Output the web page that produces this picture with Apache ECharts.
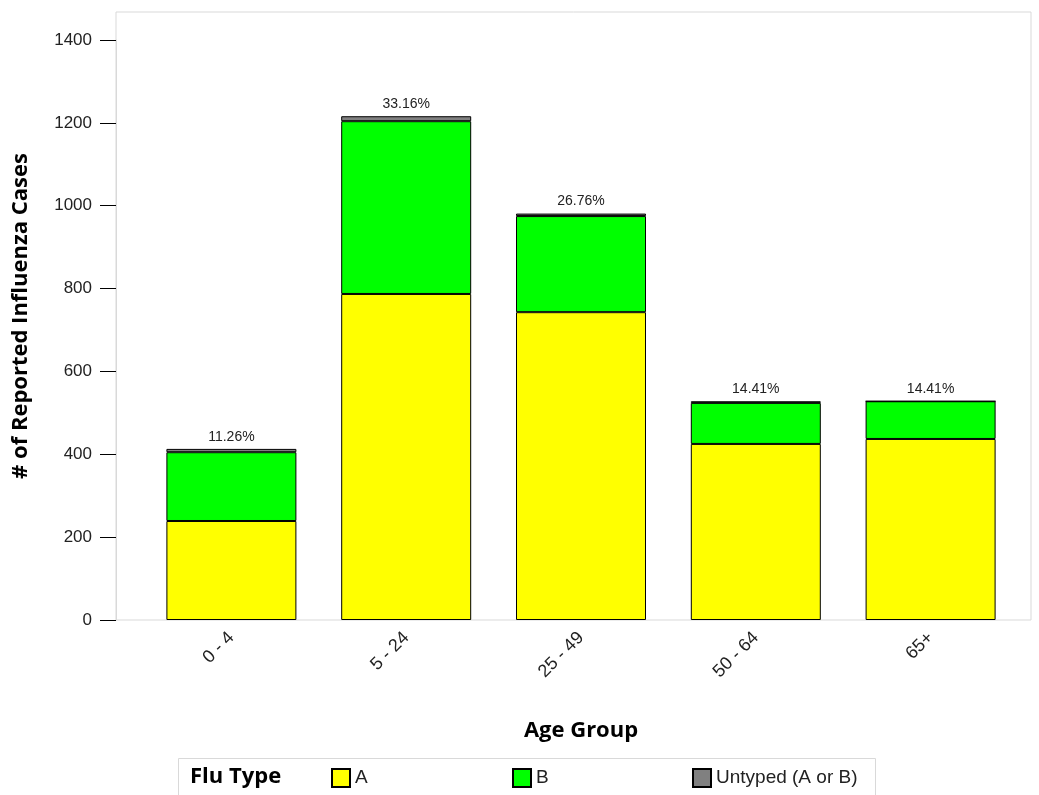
<!DOCTYPE html>
<html>
<head>
<meta charset="utf-8">
<script src="https://cdn.jsdelivr.net/npm/echarts@6/dist/echarts.min.js"></script>
<style>
  html, body { margin: 0; padding: 0; background: #fff; }
  #chart { width: 1039px; height: 795px; }
</style>
</head>
<body>
<div id="chart"></div>
<script>
// age groups and case counts
var ageGroups = ['0 - 4', '5 - 24', '25 - 49', '50 - 64', '65+'];
var fluA = [239, 787, 743, 425, 437];
var fluB = [166, 417, 232, 99, 91];
var untyped = [8, 12, 6, 4, 0];
var pctLabels = ['11.26%', '33.16%', '26.76%', '14.41%', '14.41%'];
var yTicks = [0, 200, 400, 600, 800, 1000, 1200, 1400];

var font = 'Liberation Sans, Arial, sans-serif';
var boldFont = 'Open Sans, Noto Sans, sans-serif';

var myChart = echarts.init(document.getElementById('chart'));

function barSeries(name, data, color) {
    return {
        name: name,
        type: 'bar',
        stack: 'flu',
        barWidth: 130,
        xAxisIndex: 0,
        yAxisIndex: 0,
        itemStyle: { color: color, borderColor: '#000', borderWidth: 1 },
        emphasis: { disabled: true },
        data: data
    };
}

var untypedSeries = barSeries('Untyped (A or B)', untyped, '#808080');
untypedSeries.label = {
    show: true,
    position: 'top',
    distance: 5,
    color: '#222',
    fontFamily: font,
    fontSize: 14,
    formatter: function (p) { return pctLabels[p.dataIndex]; }
};

var option = {
    animation: false,
    textStyle: { fontFamily: font },
    grid: [
        { left: 144, right: 21, top: 40, bottom: 175, outerBoundsMode: 'none' },
        { left: 116, right: 8, top: 12, bottom: 175, outerBoundsMode: 'none', show: true, borderColor: '#d9d9d9', borderWidth: 1, backgroundColor: 'transparent' }
    ],
    xAxis: [
        {
            type: 'category',
            gridIndex: 0,
            data: ageGroups,
            axisLine: { show: false },
            axisTick: { show: false },
            axisLabel: { rotate: 45, margin: 15, color: '#222', fontSize: 18, fontFamily: font },
            name: 'Age Group',
            nameLocation: 'middle',
            nameGap: 100,
            nameTextStyle: { fontFamily: boldFont, fontWeight: 'bold', fontSize: 22, color: '#000' }
        },
        { type: 'value', gridIndex: 1, show: false }
    ],
    yAxis: [
        {
            type: 'value',
            gridIndex: 0,
            min: yTicks[0],
            max: yTicks[yTicks.length - 1],
            interval: 200,
            offset: 28,
            axisLine: { show: true, lineStyle: { color: '#d9d9d9' } },
            axisTick: { show: true, length: 16, lineStyle: { color: '#000' } },
            axisLabel: {
                margin: 24, color: '#222', fontSize: 17, fontFamily: font,
                formatter: function (v) { return String(v); }
            },
            splitLine: { show: false }
        },
        {
            type: 'value',
            gridIndex: 1,
            axisLine: { show: false },
            axisTick: { show: false },
            axisLabel: { show: false },
            splitLine: { show: false },
            name: '# of Reported Influenza Cases',
            nameLocation: 'middle',
            nameGap: 84,
            nameTextStyle: { fontFamily: boldFont, fontWeight: 'bold', fontSize: 22, color: '#000' }
        }
    ],
    legend: [
        { data: ['A'], left: 331, top: 768 },
        { data: ['B'], left: 512, top: 768 },
        { data: ['Untyped (A or B)'], left: 692, top: 768 }
    ].map(function (l) {
        l.icon = 'rect';
        l.itemWidth = 18;
        l.itemHeight = 18;
        l.itemGap = 0;
        l.padding = 0;
        l.selectedMode = false;
        l.textStyle = { fontFamily: font, fontSize: 19, color: '#222', padding: [0, 0, 0, 0] };
        return l;
    }),
    graphic: [
        { type: 'rect', shape: { x: 178.5, y: 758.5, width: 697, height: 60 }, style: { fill: 'none', stroke: '#d9d9d9', lineWidth: 1 } },
        { type: 'text', left: 190, top: 766, style: { text: 'Flu Type', font: 'bold 22px ' + boldFont, fill: '#000' } }
    ],
    series: [
        barSeries('A', fluA, '#ffff00'),
        barSeries('B', fluB, '#00ff00'),
        untypedSeries
    ]
};

myChart.setOption(option);
</script>
</body>
</html>
